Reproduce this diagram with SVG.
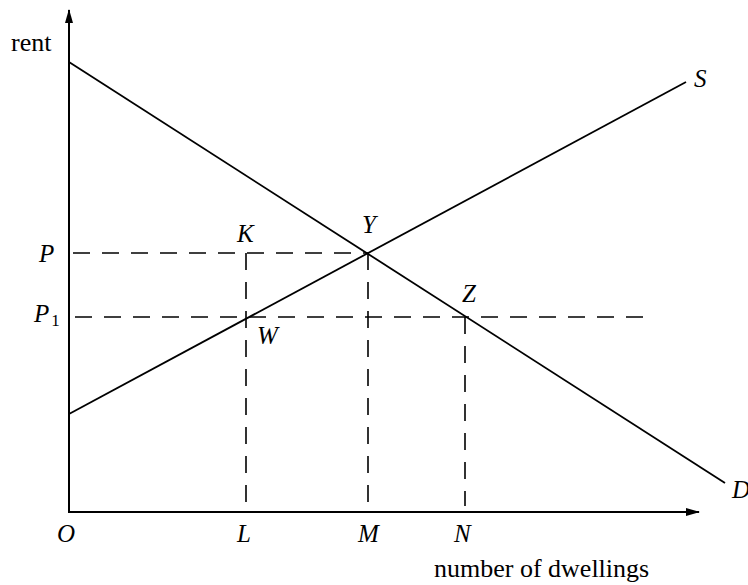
<svg xmlns="http://www.w3.org/2000/svg" width="748" height="585" viewBox="0 0 748 585">
<style>
.ax{stroke:#000;stroke-width:2;fill:none}
.ln{stroke:#000;stroke-width:1.8;fill:none}
.dash{stroke:#000;stroke-width:1.6;fill:none;stroke-dasharray:17 12}
.lab{font-family:"Liberation Serif","Times New Roman",serif;font-style:italic;font-size:25px;fill:#000}
.txt{font-family:"Liberation Serif","Times New Roman",serif;font-size:26px;fill:#000}
</style>
<defs>
<marker id="arr" viewBox="0 0 14 8" refX="13" refY="4" markerWidth="14" markerHeight="8" markerUnits="userSpaceOnUse" orient="auto">
<path d="M0,0 L14,4 L0,8 Z" fill="#000"/>
</marker>
</defs>
<rect width="748" height="585" fill="#fff"/>
<g id="connectors">
<line id="y-axis" class="ax" x1="69" y1="512" x2="69" y2="10" marker-end="url(#arr)"/>
<line id="x-axis" class="ax" x1="68" y1="512" x2="699" y2="512" marker-end="url(#arr)"/>
<line id="demand" class="ln" x1="69" y1="62" x2="725" y2="483"/>
<line id="supply" class="ln" x1="69" y1="414" x2="686" y2="82"/>
<line id="dash-P" class="dash" x1="73" y1="253" x2="368" y2="253"/>
<line id="dash-P1" class="dash" x1="75" y1="317" x2="655" y2="317"/>
<line id="dash-L" class="dash" x1="246" y1="253" x2="246" y2="506"/>
<line id="dash-M" class="dash" x1="368" y1="253" x2="368" y2="506"/>
<line id="dash-N" class="dash" x1="465" y1="317" x2="465" y2="506"/>
</g>
<g id="axis-labels">
<text class="txt" x="11" y="51">rent</text>
<text class="txt" x="434" y="577">number of dwellings</text>
</g>
<g id="node-P"><text class="lab" x="39" y="262">P</text></g>
<g id="node-P1"><text class="lab" x="34" y="322">P<tspan font-style="normal" font-size="17" dy="4" dx="2">1</tspan></text></g>
<g id="node-K"><text class="lab" x="237" y="242">K</text></g>
<g id="node-Y"><text class="lab" x="362" y="233">Y</text></g>
<g id="node-W"><text class="lab" x="257" y="344">W</text></g>
<g id="node-Z"><text class="lab" x="462" y="302">Z</text></g>
<g id="node-S"><text class="lab" x="694" y="87">S</text></g>
<g id="node-D"><text class="lab" x="732" y="498">D</text></g>
<g id="node-O"><text class="lab" x="57" y="542">O</text></g>
<g id="node-L"><text class="lab" x="237" y="542">L</text></g>
<g id="node-M"><text class="lab" x="358" y="542">M</text></g>
<g id="node-N"><text class="lab" x="454" y="542">N</text></g>
</svg>
